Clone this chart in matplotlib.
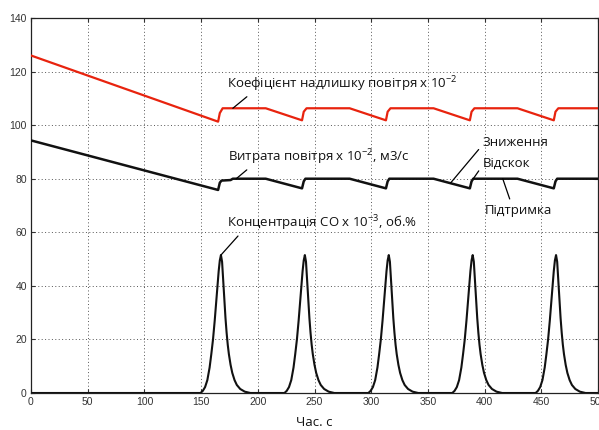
import matplotlib
matplotlib.use("Agg")
import matplotlib.pyplot as plt

# air excess coefficient x 1e-2 (red), breakpoints
RED_T = [0, 165, 166.5, 169, 207, 239, 240.5, 243, 281, 313, 314.5, 317,
         355, 387, 388.5, 391, 429, 461, 462.5, 465, 500]
RED_V = [126.0, 101.3, 104.5, 106.3, 106.3, 101.8, 105.0, 106.3, 106.3, 101.8,
         105.0, 106.3, 106.3, 101.8, 105.0, 106.3, 106.3, 101.8, 105.0, 106.3,
         106.3]

# air flow x 1e-2, m3/s (black)
AIR_T = [0, 165, 166.5, 168, 176, 178, 207, 239, 240.5, 242, 281, 313, 314.5,
         316, 355, 387, 388.5, 390, 429, 461, 462.5, 464, 500]
AIR_V = [94.3, 75.8, 78.5, 79.3, 79.5, 80.0, 80.0, 76.4, 79.0, 80.0, 80.0,
         76.4, 79.0, 80.0, 80.0, 76.4, 79.0, 80.0, 80.0, 76.4, 79.0, 80.0,
         80.0]

# CO concentration x 1e-3: one peak profile (offset from peak, value), repeated
CO_PEAKS = [167.5, 241.5, 315.5, 389.5, 463]
PEAK_DT = [-18, -16, -14, -12, -10, -8.5, -7, -5.5, -4, -3, -2, -1, 0,
           1, 2, 3, 4, 5, 6, 7, 8.5, 10, 12, 14, 17, 21, 26]
PEAK_V = [0, 0.8, 2.2, 4.8, 9.5, 14.5, 20, 27, 35, 40.5, 45.5, 49.5, 51.5,
          49, 42, 35, 28, 22.5, 18, 14.5, 10.5, 7.5, 4.8, 3.0, 1.5, 0.5, 0]

XTICKS = list(range(0, 501, 50))
YTICKS = list(range(0, 141, 20))

TEXT_FONT = ["Open Sans", "DejaVu Sans"]


def co_series():
    t, v = [0.0], [0.0]
    for peak in CO_PEAKS:
        t.extend(peak + d for d in PEAK_DT)
        v.extend(PEAK_V)
    t.append(500.0)
    v.append(0.0)
    return t, v


def label(ax, text, xy, xytext, relpos, shrink=0):
    ax.annotate(text, xy=xy, xytext=xytext, textcoords="data",
                fontsize=9.5, family=TEXT_FONT, color="#111111",
                ha="left", va="center",
                arrowprops=dict(arrowstyle="-", color="black", lw=0.9,
                                shrinkA=shrink, shrinkB=0, relpos=relpos))


def main():
    plt.rcParams["mathtext.fontset"] = "custom"
    plt.rcParams["mathtext.rm"] = "Open Sans"

    fig = plt.figure(figsize=(5.99, 4.30), dpi=100, facecolor="white")
    ax = fig.add_axes([31 / 599, 1 - 393 / 430, 567 / 599, 375 / 430])

    co_t, co_v = co_series()
    ax.plot(co_t, co_v, color="#111111", lw=1.5, zorder=3)
    ax.plot(AIR_T, AIR_V, color="#111111", lw=1.8, zorder=3)
    ax.plot(RED_T, RED_V, color="#e8230e", lw=1.6, zorder=3)

    ax.set_xlim(0, 500)
    ax.set_ylim(0, 140)
    ax.set_xticks(XTICKS)
    ax.set_yticks(YTICKS)
    ax.grid(True, color="#555555", linestyle=(0, (1, 2.5)), lw=0.7)
    ax.tick_params(direction="in", top=True, right=True, length=3,
                   labelsize=7.5, colors="#333333", pad=3)
    for lab in ax.get_xticklabels() + ax.get_yticklabels():
        lab.set_family("Liberation Sans")
        lab.set_color("#333333")
    for spine in ax.spines.values():
        spine.set_color("#222222")
        spine.set_linewidth(0.9)

    ax.set_xlabel("Час. с", family=TEXT_FONT, fontsize=9.5, color="#111111",
                  labelpad=6)

    label(ax, "Коефіцієнт надлишку повітря x 10$^{\\mathregular{-2}}$",
          (178, 106.3), (173, 115.3), (0.1, 0.0))
    label(ax, "Витрата повітря x 10$^{\\mathregular{-2}}$, м3/с",
          (181, 80.0), (174, 88.0), (0.12, 0.0))
    label(ax, "Концентрація CO x 10$^{\\mathregular{-3}}$, об.%",
          (167.5, 51.5), (173, 63.3), (0.07, 0.0))

    label(ax, "Зниження", (370, 78.4), (398, 93.5), (0.0, 0.3), shrink=1)
    label(ax, "Відскок", (390, 80.0), (398, 85.8), (0.0, 0.3), shrink=1)
    label(ax, "Підтримка", (416, 80.0), (400, 68.0), (0.4, 1.0), shrink=2)

    fig.savefig("out.png", dpi=100, facecolor="white")


if __name__ == "__main__":
    main()
